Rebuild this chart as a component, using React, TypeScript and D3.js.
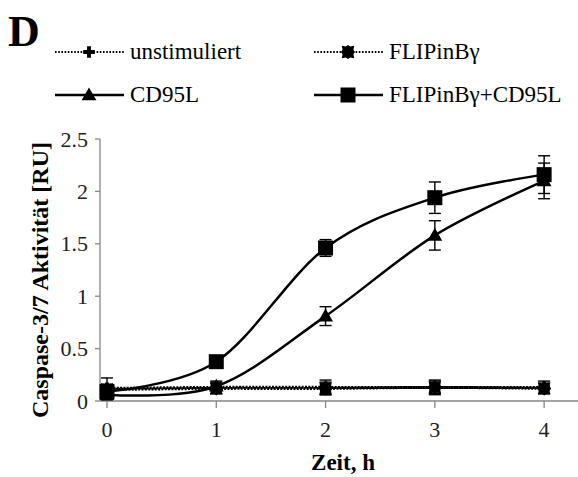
import React from "react";
import * as d3 from "d3";

const hours = [0, 1, 2, 3, 4];
const unstimValues = [0.12, 0.13, 0.13, 0.13, 0.13];
const unstimErrors = [0.1, 0.06, 0.07, 0.07, 0.06];
const flipValues = [0.11, 0.12, 0.12, 0.13, 0.12];
const flipErrors = [0.05, 0.05, 0.06, 0.06, 0.05];
const cd95lValues = [0.06, 0.14, 0.81, 1.58, 2.1];
const cd95lErrors = [0.05, 0.04, 0.09, 0.14, 0.17];
const flipCd95lValues = [0.09, 0.375, 1.46, 1.94, 2.16];
const flipCd95lErrors = [0.05, 0.03, 0.08, 0.15, 0.18];
const yTicks = [0, 0.5, 1, 1.5, 2, 2.5];
const xTicks = [0, 1, 2, 3, 4];

const FONT = "'Times New Roman', 'Liberation Serif', 'DejaVu Serif', serif";

const W = 578;
const H = 477;
const x = d3.scaleLinear().domain([-0.064, 4.31]).range([100, 578]);
const y = d3.scaleLinear().domain([0, 2.5]).range([401, 139]);

type Series = {
  name: string;
  values: number[];
  errors: number[];
  dotted: boolean;
  marker: "cross" | "star" | "triangle" | "square";
};

const series: Series[] = [
  { name: "unstimuliert", values: unstimValues, errors: unstimErrors, dotted: true, marker: "cross" },
  { name: "FLIPinBγ", values: flipValues, errors: flipErrors, dotted: true, marker: "star" },
  { name: "CD95L", values: cd95lValues, errors: cd95lErrors, dotted: false, marker: "triangle" },
  { name: "FLIPinBγ+CD95L", values: flipCd95lValues, errors: flipCd95lErrors, dotted: false, marker: "square" },
];

function starPath(s: number) {
  const pts: [number, number][] = [];
  const n = 16;
  for (let i = 0; i < n; i++) {
    const a = (i / n) * Math.PI * 2;
    const r = i % 2 === 0 ? s : s * 0.78;
    const c = Math.cos(a), si = Math.sin(a);
    const k = 1 / Math.max(Math.abs(c), Math.abs(si));
    const rr = r * Math.min(k, 1.25);
    pts.push([c * rr, si * rr]);
  }
  return "M" + pts.map((p) => p.join(",")).join("L") + "Z";
}

function Marker({ kind, cx, cy }: { kind: Series["marker"]; cx: number; cy: number }) {
  if (kind === "square") {
    return <rect x={cx - 7.5} y={cy - 7.5} width={15} height={15} fill="#000" />;
  }
  if (kind === "triangle") {
    const p = d3.symbol().type(d3.symbolTriangle).size(95)();
    return <path d={p || ""} transform={`translate(${cx},${cy + 1})`} fill="#000" />;
  }
  if (kind === "cross") {
    const p = d3.symbol().type(d3.symbolCross).size(75)();
    return <path d={p || ""} transform={`translate(${cx},${cy})`} fill="#000" />;
  }
  return <path d={starPath(7)} transform={`translate(${cx},${cy})`} fill="#000" />;
}

const textStyle = { fontFamily: FONT };

export default function App() {
  const line = d3
    .line<number>()
    .x((_, i) => x(hours[i]))
    .y((d) => y(d))
    .curve(d3.curveCardinal.tension(0));

  const legendItems = [
    { s: series[0], lx: 55, ly: 52, tx: 130 },
    { s: series[1], lx: 314, ly: 52, tx: 389 },
    { s: series[2], lx: 55, ly: 95, tx: 130 },
    { s: series[3], lx: 314, ly: 95, tx: 389 },
  ];

  return (
    <svg
      width={W}
      height={H}
      style={{ position: "absolute", left: 0, top: 0, background: "#fff", fontFamily: FONT }}
    >
      <rect width={W} height={H} fill="#fff" />
      <text x={8} y={46} fontSize={44} fontWeight="bold" style={textStyle}>D</text>

      {legendItems.map(({ s, lx, ly, tx }) => (
        <g key={s.name}>
          <line
            x1={lx}
            x2={lx + 69}
            y1={ly}
            y2={ly}
            stroke="#000"
            strokeWidth={s.dotted ? 1.8 : 2.5}
            strokeDasharray={s.dotted ? "1.6,1.6" : undefined}
          />
          <Marker kind={s.marker} cx={lx + 34} cy={ly} />
          <text x={tx} y={ly + 7} fontSize={23} style={textStyle}>{s.name}</text>
        </g>
      ))}

      {/* axes */}
      <line x1={100} x2={100} y1={139} y2={401} stroke="#868686" strokeWidth={1.3} />
      <line x1={100} x2={578} y1={401} y2={401} stroke="#868686" strokeWidth={1.3} />
      {yTicks.map((t) => (
        <g key={"y" + t}>
          <line x1={95} x2={100} y1={y(t)} y2={y(t)} stroke="#868686" strokeWidth={1.3} />
          <text x={88} y={y(t) + 7.5} fontSize={22} textAnchor="end" fill="#222" style={textStyle}>{String(t)}</text>
        </g>
      ))}
      {xTicks.map((t) => (
        <g key={"x" + t}>
          <line x1={x(t)} x2={x(t)} y1={401} y2={408} stroke="#868686" strokeWidth={1.3} />
          <text x={x(t)} y={437} fontSize={22} textAnchor="middle" fill="#222" style={textStyle}>{String(t)}</text>
        </g>
      ))}
      <text x={343} y={470} fontSize={23} fontWeight="bold" textAnchor="middle" style={textStyle}>Zeit, h</text>
      <text
        transform="translate(48,280) rotate(-90)"
        fontSize={24}
        fontWeight="bold"
        textAnchor="middle"
        style={textStyle}
      >
        Caspase-3/7 Aktivität [RU]
      </text>

      {/* lines */}
      {series.map((s, k) => (
        <path
          key={"l" + s.name}
          d={line(s.values) || ""}
          fill="none"
          stroke="#000"
          strokeWidth={s.dotted ? 3 : 2.5}
          strokeDasharray={s.dotted ? "2,1.3" : undefined}
          strokeDashoffset={k === 1 ? 1.6 : 0}
        />
      ))}

      {/* error bars */}
      {series.map((s) =>
        s.values.map((v, i) => {
          const cx = x(hours[i]);
          const y1 = y(v + s.errors[i]);
          const y2 = y(v - s.errors[i]);
          return (
            <g key={"e" + s.name + i} stroke="#000" strokeWidth={1.4}>
              <line x1={cx} x2={cx} y1={y1} y2={y2} />
              <line x1={cx - 6} x2={cx + 6} y1={y1} y2={y1} />
              <line x1={cx - 6} x2={cx + 6} y1={y2} y2={y2} />
            </g>
          );
        })
      )}

      {/* markers */}
      {series.map((s) =>
        s.values.map((v, i) => (
          <Marker key={"m" + s.name + i} kind={s.marker} cx={x(hours[i])} cy={y(v)} />
        ))
      )}
    </svg>
  );
}
